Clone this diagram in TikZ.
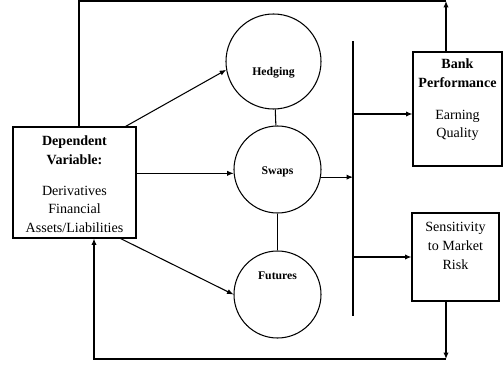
\documentclass[tikz,border=0pt]{standalone}
\usepackage{fontspec}
\setmainfont{Liberation Serif}
\usetikzlibrary{arrows.meta}

\begin{document}
\begin{tikzpicture}[x=0.03cm, y=-0.03cm, line width=0.9pt,
	box/.style={draw, rectangle, inner sep=0pt},
	circ/.style={draw, circle, inner sep=0pt},
	txt/.style={align=center, font=\fontsize{12}{16}\selectfont},
	lbl/.style={font=\fontsize{10}{12}\selectfont\bfseries},
	arr/.style={-{Latex[length=5.5pt,width=4.5pt]}}]
	
	\useasboundingbox (0,0) rectangle (503,365);
	
	% Boxes
	\node[box, minimum width=3.69cm, minimum height=3.33cm] (dep) at (74.5,182.5) {};
	\node[txt] (depText) at (74.5,184.5) {\textbf{Dependent}\\\textbf{Variable:}\\[10pt]Derivatives\\Financial\\Assets/Liabilities};
	
	\node[box, minimum width=2.67cm, minimum height=3.42cm] (bank) at (457.5,109) {};
	\node[txt] (bankText) at (457.5,100) {\textbf{Bank}\\\textbf{Performance}\\[11pt]Earning\\Quality};
	
	\node[box, minimum width=2.61cm, minimum height=2.64cm] (sens) at (455.5,257) {};
	\node[txt] (sensText) at (455.5,246) {Sensitivity\\to Market\\Risk};
	
	% Circles
	\node[circ, minimum size=2.85cm] (hedge) at (273.5,61.5) {};
	\node[circ, minimum size=2.61cm] (swaps) at (277.5,169.5) {};
	\node[circ, minimum size=2.61cm] (futures) at (277.5,294.5) {};
	\node[lbl] (hedgeText) at (273.5,73) {Hedging};
	\node[lbl] (swapsText) at (277.5,172) {Swaps};
	\node[lbl] (futuresText) at (277.5,276) {Futures};
	
	\draw (hedge) -- (swaps);
	\draw (swaps) -- (futures);
	
	% Arrows out of the dependent box
	\draw[arr] ([xshift=-0.33cm]dep.north east) -- (hedge.190);
	\draw[arr] (dep.east |- swaps.185) -- (swaps.185);
	\draw[arr] ([xshift=-0.48cm]dep.south east) -- (futures.180);
	
	% Vertical bar
	\coordinate (barTop) at (353,41);
	\coordinate (barBot) at (353,316);
	\draw (barTop) -- (barBot);
	\draw[arr] (swaps.350) -- (swaps.350 -| barTop);
	\draw[arr] ([yshift=-0.15cm]bank.west -| barTop) -- ([yshift=-0.15cm]bank.west);
	\draw[arr] (sens.west -| barTop) -- (sens.west);
	
	% Feedback loops
	\coordinate (topL) at (79,1);
	\coordinate (topR) at (446,1);
	\draw (dep.north -| topL) -- (topL) -- (topR);
	\draw[arr] (bank.north -| topR) -- (topR);
	
	\coordinate (botL) at (94,359);
	\coordinate (botR) at (446,359);
	\draw[arr] (sens.south -| botR) -- (botR);
	\draw[arr] (botR) -- (botL) -- (dep.south -| botL);
	
\end{tikzpicture}
\end{document}
